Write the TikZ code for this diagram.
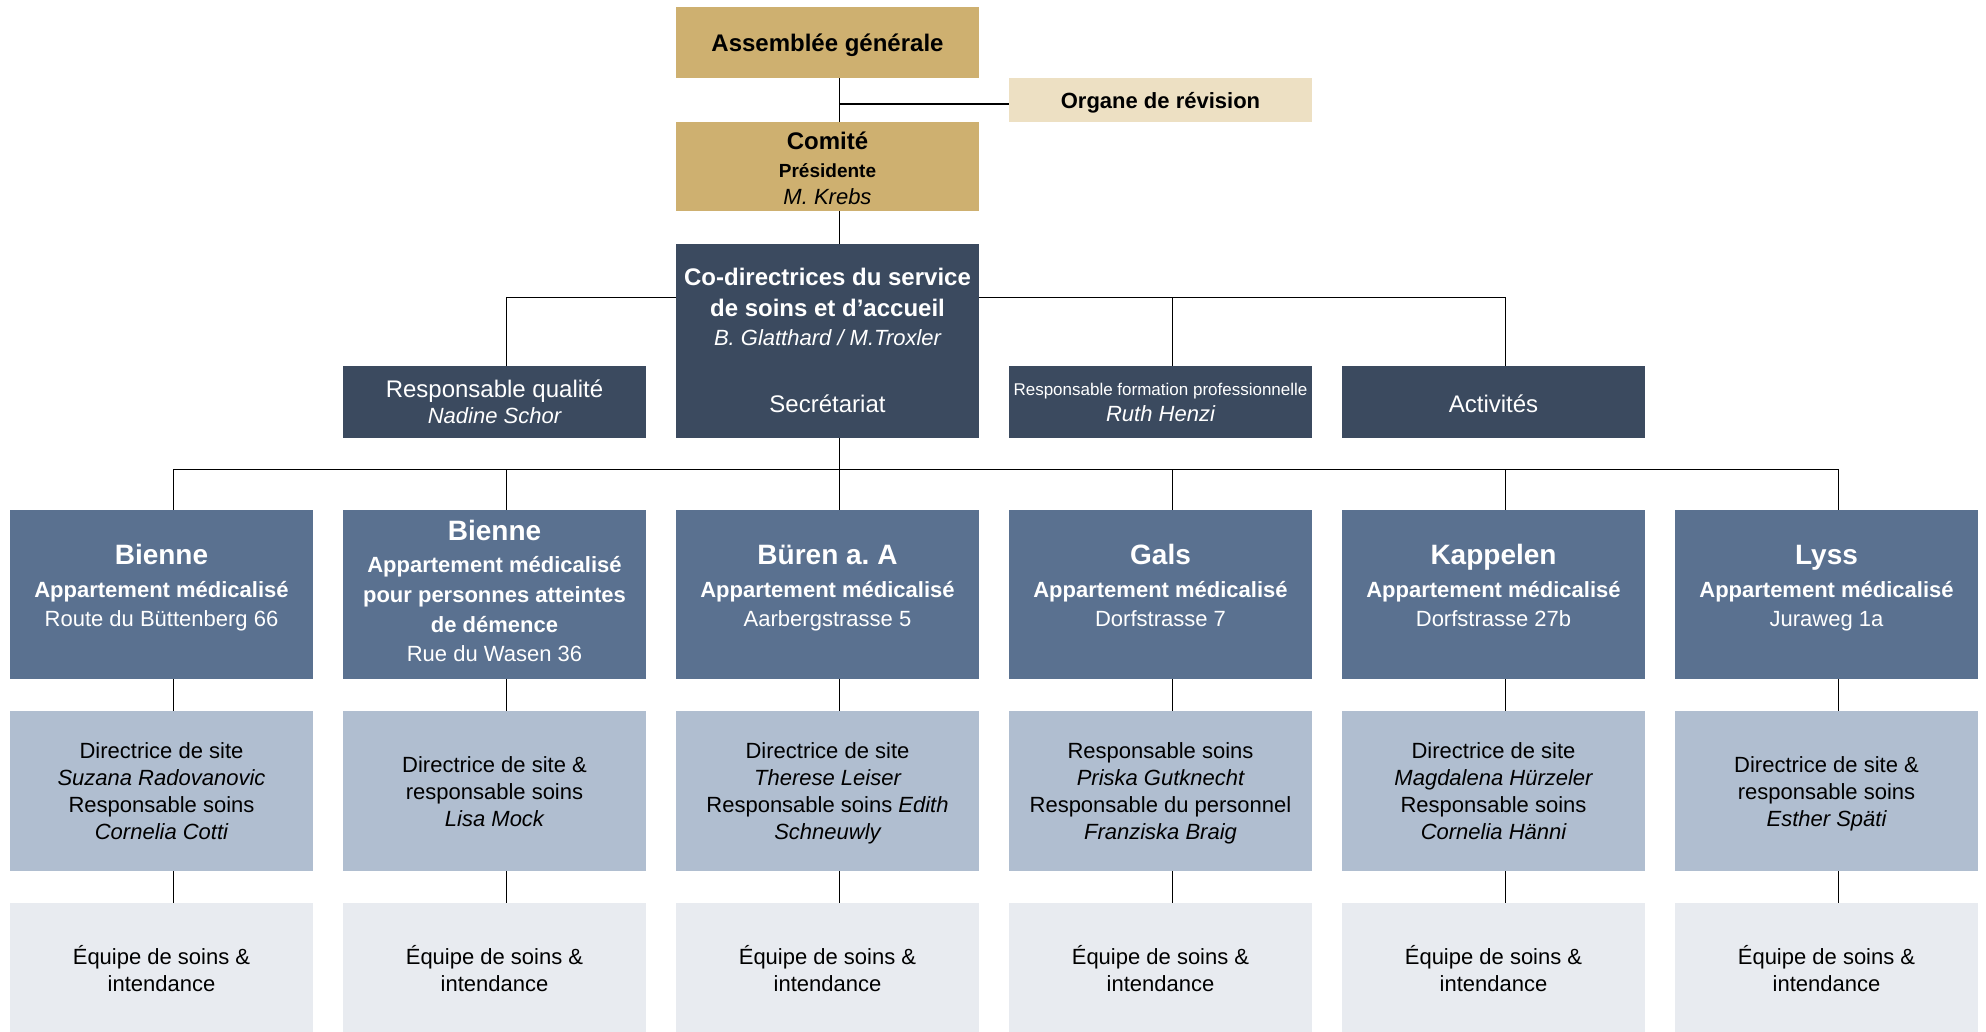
\documentclass[tikz,border=0pt]{standalone}
\usepackage{fontspec}
\setmainfont{Liberation Sans}
\usetikzlibrary{backgrounds}
\frenchspacing
\definecolor{gold}{HTML}{CEB070}
\definecolor{beige}{HTML}{EDE0C3}
\definecolor{navy}{HTML}{3B4A5F}
\definecolor{steel}{HTML}{5A7190}
\definecolor{pale}{HTML}{B0BED0}
\definecolor{mist}{HTML}{E8EBF0}
\tikzset{
  box/.style={rectangle, inner sep=0pt, minimum width=151.5pt},
  goldbox/.style={box, fill=gold},
  beigebox/.style={box, fill=beige},
  navybox/.style={box, fill=navy},
  sitebox/.style={box, fill=steel, minimum height=84.5pt},
  leadbox/.style={box, fill=pale, minimum height=80pt},
  teambox/.style={box, fill=mist, minimum height=64.5pt},
  txt/.style={inner sep=0pt, align=center, font=\fontsize{11}{13.5}\selectfont},
  darktxt/.style={txt, text=black},
  lighttxt/.style={txt, text=white},
  sitetxt/.style={txt, text=white, font=\fontsize{11}{15}\selectfont},
  lnk/.style={draw=black, line width=0.7pt},
}
\newcommand{\ps}{\rule[-0.212em]{0pt}{1.117em}}
\newcommand{\sitename}[1]{{\fontsize{14}{17}\selectfont\bfseries\ps #1}}
% box + centred text
\newcommand{\orgbox}[6]{%
  \node[#1] (#2) at (#3) {};
  \node[#4] (#2-t) at ([yshift=#5]#2.center) {#6};}
\begin{document}
\begin{tikzpicture}[x=0.5pt,y=-0.5pt]
\useasboundingbox (0,0) rectangle (1986,1032);

% top
\orgbox{goldbox, minimum height=35.5pt}{assemblee}{827.5,42.5}{darktxt}{-0.2pt}
  {\fontsize{12}{14}\selectfont\bfseries\ps Assemblée générale}
\orgbox{beigebox, minimum height=22pt}{organe}{1160.5,100}{darktxt}{-0.2pt}
  {\bfseries\ps Organe de révision}
\orgbox{goldbox, minimum height=44.5pt}{comite}{827.5,166.5}{darktxt}{-0.9pt}
  {{\fontsize{12}{15}\selectfont\bfseries\ps Comité}\\[0.3pt]
   {\fontsize{9.5}{13.3}\selectfont\bfseries Présidente}\\
   {\itshape M. Krebs\ps}}
\orgbox{navybox, minimum height=97pt}{codir}{827.5,341}{lighttxt}{0.1pt}
  {{\fontsize{12}{15}\selectfont\bfseries\ps Co-directrices du service}\\[1.7pt]
   {\fontsize{12}{15}\selectfont\bfseries de soins et d’accueil}\\[1pt]
   {\itshape B. Glatthard / M.Troxler}\\[20pt]
   {\fontsize{12}{14.5}\selectfont Secrétariat\ps}}
\orgbox{navybox, minimum height=36pt}{qualite}{494.5,402}{lighttxt}{-0.1pt}
  {{\fontsize{12}{14}\selectfont\ps Responsable qualité}\\[-0.5pt]
   {\itshape Nadine Schor\ps}}
\orgbox{navybox, minimum height=36pt}{formation}{1160.5,402}{lighttxt}{-0.7pt}
  {{\fontsize{8.5}{10}\selectfont\ps Responsable formation professionnelle}\\[-0.3pt]
   {\itshape Ruth Henzi\ps}}
\orgbox{navybox, minimum height=36pt}{activites}{1493.5,402}{lighttxt}{-0.9pt}
  {{\fontsize{12}{14}\selectfont\ps Activités}}

% sites
\orgbox{sitebox}{s1}{161.5,594.5}{sitetxt}{4.8pt}
  {\sitename{Bienne}\\[1.5pt] {\bfseries Appartement médicalisé}\\[-0.5pt] Route du Büttenberg 66\ps}
\orgbox{sitebox}{s2}{494.5,594.5}{sitetxt}{1.8pt}
  {\sitename{Bienne}\\[1pt] {\bfseries Appartement médicalisé}\\ {\bfseries pour personnes atteintes}\\ {\bfseries de démence}\\[-0.5pt] Rue du Wasen 36\ps}
\orgbox{sitebox}{s3}{827.5,594.5}{sitetxt}{4.8pt}
  {\sitename{Büren a. A}\\[1.5pt] {\bfseries Appartement médicalisé}\\[-0.5pt] Aarbergstrasse 5\ps}
\orgbox{sitebox}{s4}{1160.5,594.5}{sitetxt}{4.8pt}
  {\sitename{Gals}\\[1.5pt] {\bfseries Appartement médicalisé}\\[-0.5pt] Dorfstrasse 7\ps}
\orgbox{sitebox}{s5}{1493.5,594.5}{sitetxt}{4.8pt}
  {\sitename{Kappelen}\\[1.5pt] {\bfseries Appartement médicalisé}\\[-0.5pt] Dorfstrasse 27b\ps}
\orgbox{sitebox}{s6}{1826.5,594.5}{sitetxt}{4.8pt}
  {\sitename{Lyss}\\[1.5pt] {\bfseries Appartement médicalisé}\\[-0.5pt] Juraweg 1a\ps}

% leaders
\orgbox{leadbox}{d1}{161.5,791}{darktxt}{-0.4pt}
  {\ps Directrice de site\\ {\itshape Suzana Radovanovic}\\ Responsable soins\\ {\itshape Cornelia Cotti\ps}}
\orgbox{leadbox}{d2}{494.5,791}{darktxt}{-0.6pt}
  {\ps Directrice de site \&\\ responsable soins\\ {\itshape Lisa Mock\ps}}
\orgbox{leadbox}{d3}{827.5,791}{darktxt}{-0.4pt}
  {\ps Directrice de site\\ {\itshape Therese Leiser}\\ Responsable soins {\itshape Edith}\\ {\itshape Schneuwly\ps}}
\orgbox{leadbox}{d4}{1160.5,791}{darktxt}{-0.4pt}
  {\ps Responsable soins\\ {\itshape Priska Gutknecht}\\ Responsable du personnel\\ {\itshape Franziska Braig\ps}}
\orgbox{leadbox}{d5}{1493.5,791}{darktxt}{-0.4pt}
  {\ps Directrice de site\\ {\itshape Magdalena Hürzeler}\\ Responsable soins\\ {\itshape Cornelia Hänni\ps}}
\orgbox{leadbox}{d6}{1826.5,791}{darktxt}{-0.6pt}
  {\ps Directrice de site \&\\ responsable soins\\ {\itshape Esther Späti\ps}}

% teams
\foreach \i/\x in {1/161.5,2/494.5,3/827.5,4/1160.5,5/1493.5,6/1826.5}{
  \orgbox{teambox}{e\i}{\x,967.5}{darktxt}{-1.5pt}
    {\ps Équipe de soins \&\\ intendance\ps}
}

% connectors
\begin{scope}[on background layer]
  \coordinate (ja) at (839.5,104);
  \coordinate (b1) at (839.5,297.6);
  \coordinate (b2) at (839.5,469.5);
  \draw[lnk] ([xshift=6pt]assemblee.south) -- ([xshift=6pt]comite.north);
  \draw[lnk] (ja) -- (ja -| organe.west);
  \draw[lnk] ([xshift=6pt]comite.south) -- ([xshift=6pt]codir.north);
  \foreach \n in {qualite,formation,activites}
    \coordinate (\n-top) at ([xshift=6pt]\n.north);
  \draw[lnk] (qualite-top) |- (activites-top |- b1) -- (activites-top);
  \draw[lnk] (formation-top) -- (formation-top |- b1);
  \draw[lnk] ([xshift=6pt]codir.south) -- (b2);
  \foreach \i in {1,...,6}
    \coordinate (t\i) at ([xshift=6pt]s\i.north);
  \draw[lnk] (t1) |- (t6 |- b2) -- (t6);
  \foreach \i in {1,...,6} {
    \draw[lnk] (t\i) -- (t\i |- b2);
    \draw[lnk] ([xshift=6pt]s\i.south) -- ([xshift=6pt]d\i.north);
    \draw[lnk] ([xshift=6pt]d\i.south) -- ([xshift=6pt]e\i.north);
  }
\end{scope}
\end{tikzpicture}
\end{document}
